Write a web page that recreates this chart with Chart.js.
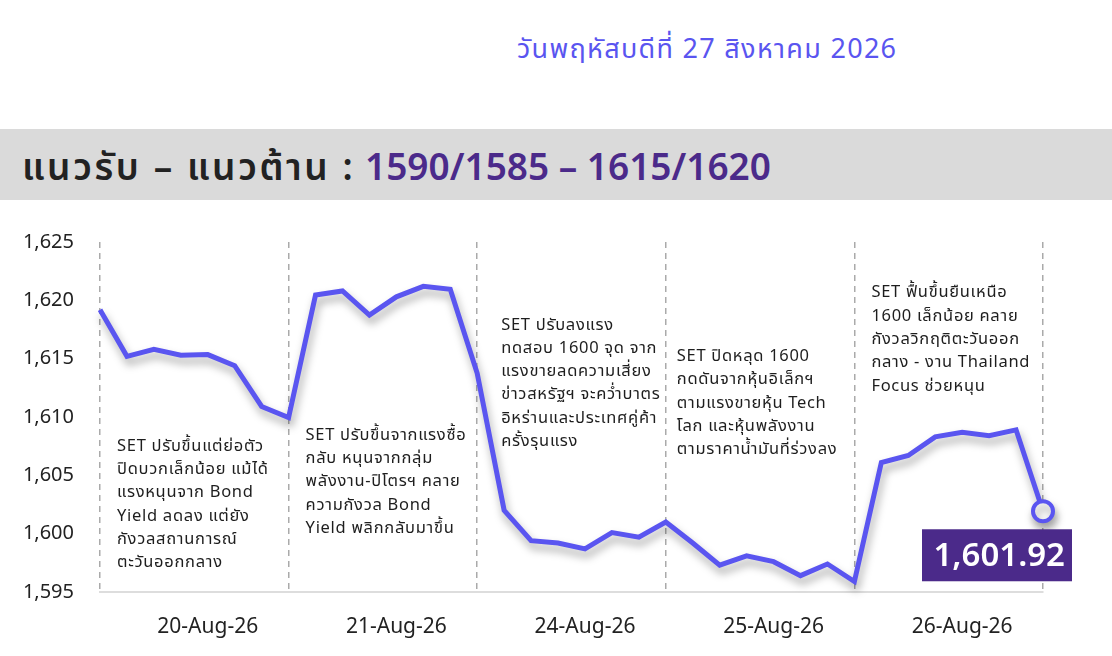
<!DOCTYPE html>
<html lang="th">
<head>
<meta charset="utf-8">
<script src="https://cdn.jsdelivr.net/npm/chart.js@4/dist/chart.umd.min.js"></script>
<style>
    html, body { margin: 0; padding: 0; background: #fff; }
    body { width: 1112px; height: 656px; position: relative; overflow: hidden;
           font-family: "Noto Sans", "Noto Sans Thai", Roboto, sans-serif; }
    .date { position: absolute; left: 517px; top: 29px; font-size: 27px; letter-spacing: 1.3px;
            color: #5a55f0; white-space: nowrap; }
    .band { position: absolute; left: 0; top: 129px; width: 1112px; height: 71px; background: #dadada; }
    .band h1 { margin: 0; position: absolute; left: 22px; top: 11px; font-size: 37px; font-weight: 600;
               color: #222; white-space: nowrap; }
    .band h1 .th { letter-spacing: 2.6px; }
    .band h1 span.num { color: #4b2a8a; }
    .chart-wrap { position: absolute; left: 0; top: 200px; width: 1112px; height: 456px; }
</style>
</head>
<body>
<div class="date">วันพฤหัสบดีที่ 27 สิงหาคม 2026</div>
<div class="band"><h1><span class="th">แนวรับ – แนวต้าน :</span> <span class="num">1590/1585 – 1615/1620</span></h1></div>
<div class="chart-wrap"><canvas id="setChart"></canvas></div>

<script>
// ========== DATA ==========
const setClose = [
    1619.2, 1615.2, 1615.8, 1615.3, 1615.35, 1614.4, 1610.9, 1609.95,
    1620.46, 1620.8, 1618.74, 1620.3, 1621.2, 1620.95, 1613.75,
    1602.0, 1599.4, 1599.2, 1598.7, 1600.1, 1599.7, 1601.0,
    1599.2, 1597.3, 1598.1, 1597.6, 1596.4, 1597.4, 1595.9,
    1606.1, 1606.7, 1608.3, 1608.7, 1608.4, 1608.9, 1601.92
];
const dayLabels = ['20-Aug-26', '21-Aug-26', '24-Aug-26', '25-Aug-26', '26-Aug-26'];
const dayLabelIndex = [4, 11, 18, 25, 32];
const dayBreaks = [0, 7, 14, 21, 28, 35];
const yTicks = [1595, 1600, 1605, 1610, 1615, 1620, 1625];
const lastValueText = '1,601.92';

const notes = [
    ['SET ปรับขึ้นแต่ย่อตัว', 'ปิดบวกเล็กน้อย แม้ได้', 'แรงหนุนจาก Bond', 'Yield ลดลง แต่ยัง', 'กังวลสถานการณ์', 'ตะวันออกกลาง'],
    ['SET ปรับขึ้นจากแรงซื้อ', 'กลับ หนุนจากกลุ่ม', 'พลังงาน-ปิโตรฯ คลาย', 'ความกังวล Bond', 'Yield พลิกกลับมาขึ้น'],
    ['SET ปรับลงแรง', 'ทดสอบ 1600 จุด จาก', 'แรงขายลดความเสี่ยง', 'ข่าวสหรัฐฯ จะคว่ำบาตร', 'อิหร่านและประเทศคู่ค้า', 'ครั้งรุนแรง'],
    ['SET ปิดหลุด 1600', 'กดดันจากหุ้นอิเล็กฯ', 'ตามแรงขายหุ้น Tech', 'โลก และหุ้นพลังงาน', 'ตามราคาน้ำมันที่ร่วงลง'],
    ['SET ฟื้นขึ้นยืนเหนือ', '1600 เล็กน้อย คลาย', 'กังวลวิกฤติตะวันออก', 'กลาง - งาน Thailand', 'Focus ช่วยหนุน']
];
// top line of each note: [value on y axis, px offset right of the day break]
const noteTop = [1607.5, 1608.45, 1617.9, 1615.2, 1620.65];
const noteDx = [17, 17, 24, 11, 17];

// ========== HELPERS ==========
const xLabels = setClose.map((v, i) => {
    const k = dayLabelIndex.indexOf(i);
    return k >= 0 ? dayLabels[k] : '';
});

function formatNumber(value) {
    return new Intl.NumberFormat('en-US', { maximumFractionDigits: 0 }).format(value);
}

const fontFamily = '"Noto Sans", "Noto Sans Thai", Roboto, sans-serif';

// ========== PLUGINS ==========
const lineShadow = {
    id: 'lineShadow',
    beforeDatasetDraw(chart) {
        const ctx = chart.ctx;
        ctx.save();
        ctx.shadowColor = 'rgba(0, 0, 0, 0.35)';
        ctx.shadowBlur = 8;
        ctx.shadowOffsetX = 2;
        ctx.shadowOffsetY = 6;
    },
    afterDatasetDraw(chart) {
        chart.ctx.restore();
    }
};

const noteText = {
    id: 'noteText',
    beforeDatasetsDraw(chart) {
        const ctx = chart.ctx;
        const x = chart.scales.x, y = chart.scales.y;
        ctx.save();
        ctx.fillStyle = '#1e1e1e';
        ctx.font = '16.5px ' + fontFamily;
        if ('letterSpacing' in ctx) ctx.letterSpacing = '0.7px';
        ctx.textBaseline = 'middle';
        ctx.textAlign = 'left';
        notes.forEach((lines, i) => {
            const left = x.getPixelForValue(dayBreaks[i]) + noteDx[i];
            const top = y.getPixelForValue(noteTop[i]);
            lines.forEach((line, j) => ctx.fillText(line, left, top + j * 23.3));
        });
        ctx.restore();
    }
};

const lastLabel = {
    id: 'lastLabel',
    afterDatasetsDraw(chart) {
        const ctx = chart.ctx;
        const pt = chart.getDatasetMeta(0).data[setClose.length - 1];
        const right = pt.x + 29, top = pt.y + 18;
        const w = 150, h = 52;
        ctx.save();
        ctx.fillStyle = '#4b2a8a';
        ctx.fillRect(right - w, top, w, h);
        ctx.fillStyle = '#fff';
        ctx.font = '600 33px ' + fontFamily;
        ctx.textAlign = 'right';
        ctx.textBaseline = 'middle';
        ctx.fillText(lastValueText, right - 7, top + h / 2 + 1);
        ctx.restore();
    }
};

// ========== CHART ==========
const lastIdx = setClose.length - 1;
new Chart(document.getElementById('setChart'), {
    type: 'line',
    data: {
        labels: xLabels,
        datasets: [{
            data: setClose,
            borderColor: '#5a55f0',
            borderWidth: 5,
            tension: 0,
            fill: false,
            pointRadius: setClose.map((v, i) => i === lastIdx ? 10 : 0),
            pointBackgroundColor: '#fff',
            pointBorderColor: '#5a55f0',
            pointBorderWidth: 4,
            clip: false
        }]
    },
    options: {
        responsive: true,
        maintainAspectRatio: false,
        animation: false,
        layout: { padding: { left: 0, right: 69, top: 42, bottom: 0 } },
        plugins: {
            legend: { display: false },
            tooltip: { enabled: false }
        },
        scales: {
            x: {
                type: 'category',
                offset: false,
                afterFit: scale => { scale.height = 64; },
                ticks: {
                    autoSkip: false,
                    maxRotation: 0,
                    padding: 22,
                    color: '#222',
                    font: { size: 21, family: fontFamily }
                },
                grid: {
                    drawTicks: false,
                    lineWidth: 1.5,
                    color: ctx => dayBreaks.includes(ctx.index) ? '#aaaaaa' : 'transparent'
                },
                border: { display: true, color: '#dddddd', width: 2, dash: [6, 5] }
            },
            y: {
                min: 1595,
                max: 1625,
                afterFit: scale => { scale.width = 100; },
                afterBuildTicks: scale => { scale.ticks = yTicks.map(v => ({ value: v })); },
                ticks: {
                    padding: 26,
                    color: '#222',
                    font: { size: 20, family: fontFamily },
                    callback: value => formatNumber(value)
                },
                grid: { display: false, drawTicks: false },
                border: { display: false }
            }
        }
    },
    plugins: [lineShadow, noteText, lastLabel]
});
</script>
</body>
</html>
